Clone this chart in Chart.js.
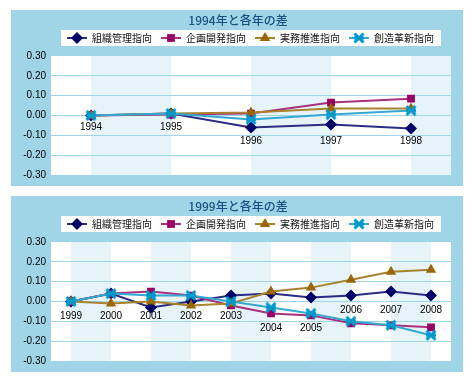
<!DOCTYPE html>
<html><head><meta charset="utf-8">
<script src="https://cdn.jsdelivr.net/npm/chart.js@4/dist/chart.umd.min.js"></script>
<style>
html,body{margin:0;padding:0;background:#fff;}
.panel{position:absolute;left:11px;width:452px;height:176px;background:#a0d5e7;}
#p1{top:10px;} #p2{top:196px;}
</style></head>
<body>
<div class="panel" id="p1"><canvas id="c1" width="452" height="176"></canvas></div>
<div class="panel" id="p2"><canvas id="c2" width="452" height="176"></canvas></div>
<script>
// ---- data ----
const seriesNames = ['組織管理指向', '企画開発指向', '実務推進指向', '創造革新指向'];
const title1 = '1994年と各年の差';
const years1 = ['1994', '1995', '1996', '1997', '1998'];
const org1   = [0, 0.01, -0.06, -0.045, -0.065];
const plan1  = [0, 0.005, 0.01, 0.065, 0.085];
const prac1  = [0, 0.01, 0.015, 0.035, 0.035];
const crea1  = [0, 0.01, -0.02, 0.005, 0.025];
const yearLabelLevel1 = [-0.06, -0.06, -0.128, -0.128, -0.128];

const title2 = '1999年と各年の差';
const years2 = ['1999', '2000', '2001', '2002', '2003', '2004', '2005', '2006', '2007', '2008'];
const org2   = [0, 0.04, -0.03, 0.00, 0.03, 0.04, 0.02, 0.03, 0.05, 0.03];
const plan2  = [0, 0.04, 0.05, 0.03, -0.02, -0.06, -0.07, -0.11, -0.12, -0.13];
const prac2  = [0, -0.01, 0.00, -0.02, -0.01, 0.05, 0.07, 0.11, 0.15, 0.16];
const crea2  = [0, 0.04, 0.03, 0.03, 0.00, -0.03, -0.06, -0.10, -0.12, -0.17];
const yearLabelLevel2 = [-0.075, -0.075, -0.075, -0.075, -0.075, -0.135, -0.135, -0.042, -0.042, -0.042];

const yTicks = [0.30, 0.20, 0.10, 0.00, -0.10, -0.20, -0.30];

// ---- styles ----
const lineColors   = ['#2c2c82', '#a8307e', '#a8822e', '#35a8d2'];
const markerColors = ['#000066', '#990066', '#996600', '#0099cc'];
const BAND = '#e6f4fa';
const GRID = '#a0d5e7';

function makeCross(color) {
  const c = document.createElement('canvas');
  c.width = 14; c.height = 14;
  const g = c.getContext('2d');
  g.strokeStyle = color; g.lineWidth = 3; g.lineCap = 'butt';
  g.beginPath();
  g.moveTo(2.5, 2.5); g.lineTo(11.5, 11.5);
  g.moveTo(11.5, 2.5); g.lineTo(2.5, 11.5);
  g.moveTo(2, 7); g.lineTo(12, 7);
  g.stroke();
  return c;
}
const crossImg = makeCross(markerColors[3]);
const pointStyles = ['rectRot', 'rect', 'triangle', crossImg];
const pointRadii = [6, 5.5, 6, 6];

function drawMarker(ctx, i, x, y) {
  ctx.save();
  ctx.fillStyle = markerColors[i];
  const r = pointRadii[i];
  ctx.beginPath();
  if (i === 0) { ctx.moveTo(x - r, y); ctx.lineTo(x, y - r); ctx.lineTo(x + r, y); ctx.lineTo(x, y + r); ctx.closePath(); ctx.fill(); }
  else if (i === 1) { const s = r * Math.SQRT1_2; ctx.fillRect(x - s, y - s, 2 * s, 2 * s); }
  else if (i === 2) { ctx.moveTo(x - r * 0.87, y + r * 0.5); ctx.lineTo(x, y - r); ctx.lineTo(x + r * 0.87, y + r * 0.5); ctx.closePath(); ctx.fill(); }
  else { ctx.drawImage(crossImg, x - 7, y - 7); }
  ctx.restore();
}

const panelPlugin = {
  id: 'panelDeco',
  beforeDraw(chart) {
    const { ctx, chartArea: a } = chart;
    const xs = chart.scales.x;
    const n = chart.data.labels.length;
    ctx.save();
    ctx.fillStyle = '#ffffff';
    ctx.fillRect(a.left, a.top, a.right - a.left, a.bottom - a.top);
    ctx.fillStyle = BAND;
    for (let i = 0; i < n; i += 2) {
      const x0 = xs.getPixelForValue(i);
      const x1 = i + 1 < n ? xs.getPixelForValue(i + 1) : a.right;
      ctx.fillRect(x0, a.top, x1 - x0, a.bottom - a.top);
    }
    // title
    const t = chart.options.plugins.panelDeco.title;
    ctx.fillStyle = '#1b4f82';
    ctx.font = '500 12px "Noto Sans CJK JP", sans-serif';
    ctx.textAlign = 'center'; ctx.textBaseline = 'middle';
    ctx.fillText(t, chart.width / 2 + 1, 10);
    // legend box
    const lx = a.left + 10, lw = a.right - a.left - 20, ly = 20, lh = 16;
    ctx.fillStyle = '#ffffff';
    ctx.fillRect(lx, ly, lw, lh);
    ctx.font = '10px "Noto Sans CJK JP", sans-serif';
    ctx.textAlign = 'left';
    for (let i = 0; i < seriesNames.length; i++) {
      const sx = lx + 6 + i * 94, cy = ly + lh / 2;
      ctx.strokeStyle = lineColors[i]; ctx.lineWidth = 2;
      ctx.beginPath(); ctx.moveTo(sx, cy); ctx.lineTo(sx + 20, cy); ctx.stroke();
      drawMarker(ctx, i, sx + 10, cy);
      ctx.fillStyle = '#111';
      ctx.fillText(seriesNames[i], sx + 25, cy + 0.5);
    }
    ctx.restore();
  },
  afterDatasetsDraw(chart) {
    const { ctx } = chart;
    const xs = chart.scales.x, ys = chart.scales.y;
    const lv = chart.options.plugins.panelDeco.levels;
    ctx.save();
    ctx.fillStyle = '#000';
    ctx.font = '10px "Liberation Sans", Arial, sans-serif';
    ctx.textAlign = 'center'; ctx.textBaseline = 'middle';
    chart.data.labels.forEach((lab, i) => {
      ctx.fillText(lab, xs.getPixelForValue(i), ys.getPixelForValue(lv[i]));
    });
    ctx.restore();
  }
};

function makeChart(id, title, labels, series, levels) {
  const datasets = series.map((d, i) => ({
    label: seriesNames[i],
    data: d,
    borderColor: lineColors[i],
    borderWidth: 2,
    backgroundColor: markerColors[i],
    pointBackgroundColor: markerColors[i],
    pointBorderColor: markerColors[i],
    pointBorderWidth: 0,
    pointStyle: pointStyles[i],
    pointRadius: pointRadii[i],
    pointHoverRadius: pointRadii[i],
    tension: 0,
    order: 3 - i
  }));
  return new Chart(document.getElementById(id), {
    type: 'line',
    data: { labels, datasets },
    options: {
      responsive: false,
      animation: false,
      devicePixelRatio: 1,
      layout: { padding: { top: 46, bottom: 10, left: 0, right: 12 } },
      plugins: {
        legend: { display: false },
        tooltip: { enabled: false },
        panelDeco: { title, levels }
      },
      scales: {
        x: { type: 'category', display: false, offset: true },
        y: {
          min: -0.3, max: 0.3,
          afterFit(s) { s.width = 40; },
          afterBuildTicks(s) { s.ticks = yTicks.map(v => ({ value: v })); },
          border: { display: false },
          grid: {
            drawTicks: false,
            lineWidth: 1,
            color: (c) => (Math.abs(Math.abs(c.tick.value) - 0.3) < 1e-6 ? 'rgba(0,0,0,0)' : GRID)
          },
          ticks: {
            padding: 5,
            color: '#000',
            font: { family: '"Liberation Sans", Arial, sans-serif', size: 10 },
            callback: (v) => (Math.abs(v) < 1e-9 ? 0 : v).toFixed(2)
          }
        }
      }
    },
    plugins: [panelPlugin]
  });
}

makeChart('c1', title1, years1, [org1, plan1, prac1, crea1], yearLabelLevel1);
makeChart('c2', title2, years2, [org2, plan2, prac2, crea2], yearLabelLevel2);
</script>
</body></html>
